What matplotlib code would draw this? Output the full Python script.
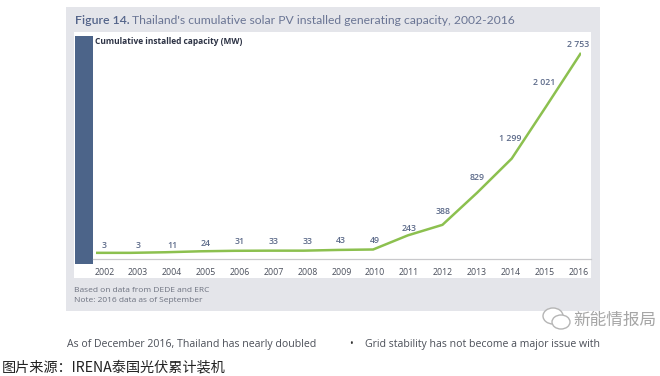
import matplotlib
matplotlib.use("Agg")
import matplotlib.pyplot as plt
from matplotlib.patches import Rectangle, Ellipse

W, H = 660, 376

years = [2002, 2003, 2004, 2005, 2006, 2007, 2008, 2009, 2010, 2011, 2012, 2013, 2014, 2015, 2016]
capacity = [3, 3, 11, 24, 31, 33, 33, 43, 49, 243, 388, 829, 1299, 2021, 2753]
value_labels = ["3", "3", "11", "24", "31", "33", "33", "43", "49", "243", "388", "829", "1 299", "2 021", "2 753"]

# how far each value label sits above the line, in pixels
label_lift = [7, 7, 7, 8, 9, 9, 9, 9, 9, 7, 13, 15, 20, 24, 8]

PANEL = "#e4e5ea"
NAVY = "#4c6489"
SLATE = "#6a7594"
GREEN = "#8cc04f"
LABEL = "#5d6b8a"


def fx(px):
    return px / W


def fy(px):
    return 1 - px / H


def box(fig, x0, y0, x1, y1, color):
    fig.add_artist(Rectangle((fx(x0), fy(y1)), (x1 - x0) / W, (y1 - y0) / H,
                             transform=fig.transFigure, color=color, lw=0))


plt.rcParams["font.family"] = ["Open Sans", "Noto Sans CJK SC", "DejaVu Sans"]

fig = plt.figure(figsize=(W / 100, H / 100), dpi=100, facecolor="white")

# grey card, white plot area and the navy band on the left
box(fig, 66, 7, 600, 311, PANEL)
box(fig, 74, 32, 591, 278, "white")
box(fig, 75, 36, 93, 264, NAVY)

# axes spans x 96..581 and y 258..36 px, year 2002 sits on its left edge
ax = fig.add_axes([fx(96), fy(258), (581 - 96) / W, (258 - 36) / H])
ax.set_zorder(5)
ax.patch.set_alpha(0)
ax.set_xlim(2002, 2016)
ax.set_ylim(-68, 2985)
for side in ["top", "left", "right", "bottom"]:
    ax.spines[side].set_visible(False)
ax.set_yticks([])

# the year labels are spaced a little tighter than the line points
px_per_year = (581 - 96) / 14
tick_pos = [2002 + (104.3 + i * 33.86 - 96) / px_per_year for i in range(len(years))]
ax.set_xticks(tick_pos, [str(y) for y in years])
ax.tick_params(axis="x", length=0, pad=7, labelsize=6.3, labelcolor="#4a4f5c")

ax.plot(years, capacity, color=GREEN, lw=1.8, solid_capstyle="butt", solid_joinstyle="miter")

for pos, val, txt, lift in zip(tick_pos, capacity, value_labels, label_lift):
    ax.annotate(txt, xy=(pos, val), xytext=(0, lift * 0.72), textcoords="offset points",
                ha="center", va="center", fontsize=6.3, color=LABEL, fontweight="semibold")

# baseline under the line, runs across the white area
fig.add_artist(plt.Line2D([fx(93), fx(591)], [fy(258.5), fy(258.5)], color="#c9c9cc", lw=0.9))

fig.text(fx(75), fy(20), "Figure 14.", fontsize=8.8, color="#54648a", fontweight="semibold",
         va="center", family=["Lato"])
fig.text(fx(132), fy(20), "Thailand's cumulative solar PV installed generating capacity, 2002-2016",
         fontsize=8.7, color=SLATE, va="center", family=["Lato"])
fig.text(fx(95), fy(42), "Cumulative installed capacity (MW)", fontsize=6, color="#2c3244",
         fontweight="bold", va="center")
fig.text(fx(74), fy(290), "Based on data from DEDE and ERC", fontsize=6, color="#6d7280", va="center")
fig.text(fx(74), fy(300), "Note: 2016 data as of September", fontsize=6, color="#6d7280", va="center")

fig.text(fx(67), fy(345), "As of December 2016, Thailand has nearly doubled", fontsize=7.6,
         color="#4b4f58", va="center")
fig.text(fx(349), fy(345), "\u2022", fontsize=7, color="#333333", va="center")
fig.text(fx(365), fy(345), "Grid stability has not become a major issue with", fontsize=7.6,
         color="#4b4f58", va="center")

fig.text(fx(2), fy(367), "图片来源：IRENA泰国光伏累计装机", fontsize=10.2, color="#222222", va="center",
         family=["Noto Sans CJK SC", "DejaVu Sans"])

# watermark: WeChat bubbles and account name
for cx, cy, w, h in [(553, 316, 20, 16), (561, 322, 18, 14)]:
    fig.add_artist(Ellipse((fx(cx), fy(cy)), w / W, h / H, transform=fig.transFigure,
                           facecolor="white", edgecolor="#b5b5b5", lw=1))
fig.text(fx(573), fy(320), "新能情报局", fontsize=12, color="#a6a6a6", va="center",
         family=["Noto Sans CJK SC", "DejaVu Sans"])

fig.savefig("out.png", dpi=100)
